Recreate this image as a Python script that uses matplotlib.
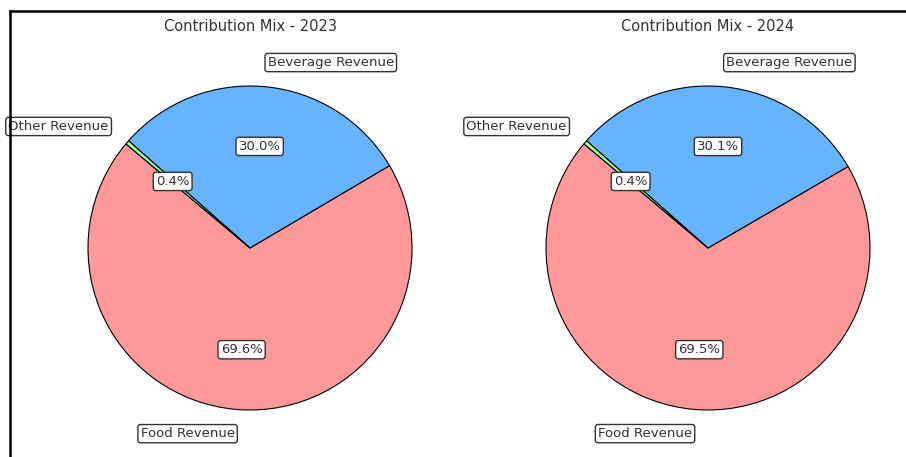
import matplotlib

matplotlib.use("Agg")
import matplotlib.pyplot as plt
from matplotlib.lines import Line2D

labels = ["Food Revenue", "Beverage Revenue", "Other Revenue"]
mix_2023 = [69.6, 30.0, 0.4]
mix_2024 = [69.5, 30.1, 0.4]
years = ["2023", "2024"]
colors = ["#ff9999", "#66b3ff", "#99ff99"]

W, H = 906, 457
fig = plt.figure(figsize=(W / 100, H / 100), dpi=100)

box = dict(boxstyle="round,pad=0.2", fc="white", ec="#333333", lw=1)

# pie centres in pixels, radius 162 px
centres = [(250, 248), (708, 248)]
half = 200
lim = half / 162

for (cx, cy), vals, yr in zip(centres, [mix_2023, mix_2024], years):
    ax = fig.add_axes([(cx - half) / W, (H - cy - half) / H, 2 * half / W, 2 * half / H])
    wedges, texts, autotexts = ax.pie(
        vals,
        labels=labels,
        colors=colors,
        autopct="%1.1f%%",
        startangle=140,
        labeldistance=1.15,
        pctdistance=0.63,
        wedgeprops=dict(edgecolor="black", linewidth=0.8),
        textprops=dict(fontsize=9.5, color="#333333"),
    )
    for t in list(texts) + list(autotexts):
        t.set_bbox(box)
    ax.set_xlim(-lim, lim)
    ax.set_ylim(-lim, lim)
    ax.set_aspect("equal")
    ax.set_title(f"Contribution Mix - {yr}", fontsize=10.5, color="#333333", pad=12)

# frame around the figure (left and top edges)
fig.add_artist(Line2D([9.5 / W, 9.5 / W], [0, 1 - 11 / H], color="black", lw=1.8, transform=fig.transFigure))
fig.add_artist(Line2D([9.5 / W, 1], [1 - 11 / H, 1 - 11 / H], color="black", lw=1.8, transform=fig.transFigure))

fig.savefig("out.png", dpi=100)
